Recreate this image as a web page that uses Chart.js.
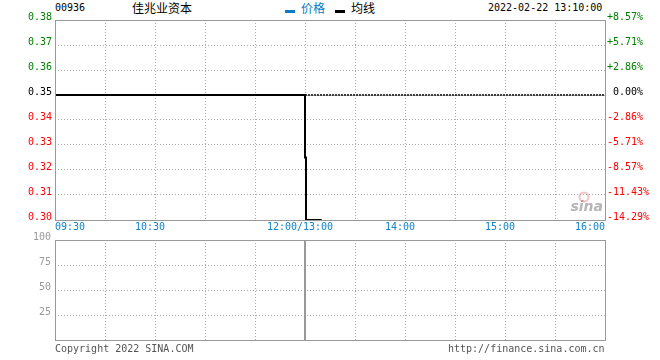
<!DOCTYPE html>
<html>
<head>
<meta charset="utf-8">
<script src="https://cdn.jsdelivr.net/npm/chart.js@4"></script>
<style>
body { margin: 0; background: #fff; width: 660px; height: 360px; position: relative; overflow: hidden; font-family: "DejaVu Sans Mono", monospace; }
.t { position: absolute; font-size: 10px; line-height: 12px; white-space: pre; color: #000; }
.cn { position: absolute; font-family: "Noto Sans CJK SC", sans-serif; font-size: 12px; line-height: 14px; white-space: pre; }
.mk { position: absolute; width: 10px; height: 3px; }
#topWrap { position: absolute; left: 0; top: 0; }
#botWrap { position: absolute; left: 0; top: 230px; }
</style>
</head>
<body>
<div class="t" style="left:55px;top:2px">00936</div>
<div class="cn" style="left:132px;top:1px">佳兆业资本</div>
<div class="mk" style="left:285px;top:10px;background:#0a7bc4"></div>
<div class="cn" style="left:301px;top:1px;color:#0a7bc4">价格</div>
<div class="mk" style="left:335px;top:10px;background:#000"></div>
<div class="cn" style="left:351px;top:1px">均线</div>
<div class="t" style="left:488px;top:2px">2022-02-22 13:10:00</div>
<div id="topWrap"><canvas id="priceChart" width="660" height="232"></canvas></div>
<div id="botWrap"><canvas id="volChart" width="660" height="130"></canvas></div>
<div class="t" style="left:55px;top:343px;color:#555">Copyright 2022 SINA.COM</div>
<div class="t" style="left:448px;top:343px;color:#555">http://finance.sina.com.cn</div>
<script>
// minutes since 09:30, lunch break removed (12:00 == 13:00 == 150)
const timeTicks = [0, 30, 60, 90, 120, 150, 180, 210, 240, 270, 300, 330];
const timeLabels = ['09:30', '', '10:30', '', '', '12:00/13:00', '', '14:00', '', '15:00', '', '16:00'];
const priceTicks = [0.30, 0.31, 0.32, 0.33, 0.34, 0.35, 0.36, 0.37, 0.38];
const volTicks = [0, 25, 50, 75, 100];
const preClose = 0.35;

const priceMin = [0, 150, 150.6, 160];
const priceVal = [0.35, 0.35, 0.30, 0.30];
const avgMin = [0, 150, 150, 150.6, 150.6, 160];
const avgVal = [0.35, 0.35, 0.325, 0.325, 0.30, 0.30];
const sessionBreak = 150;

const FONT = { family: 'DejaVu Sans Mono', size: 10 };
const GREEN = '#008000', RED = '#ff0000', GRID = '#aaaaaa', FRAME = '#999999';

function pts(xs, ys) { return xs.map((x, i) => ({ x: x, y: ys[i] })); }

function priceColor(v) {
    if (Math.abs(v - preClose) < 1e-9) return '#000';
    return v > preClose ? GREEN : RED;
}

const framePlugin = {
    id: 'frame',
    afterDatasetsDraw(chart) {
        const a = chart.chartArea, ctx = chart.ctx;
        ctx.save();
        ctx.strokeStyle = FRAME;
        ctx.lineWidth = 1;
        ctx.setLineDash([]);
        ctx.strokeRect(Math.round(a.left) + 0.5, Math.round(a.top) + 0.5,
            Math.round(a.right - a.left), Math.round(a.bottom - a.top));
        ctx.restore();
    }
};

// time labels under the price panel
const timeLabelPlugin = {
    id: 'timeLabels',
    afterDraw(chart) {
        const sx = chart.scales.x, ctx = chart.ctx;
        ctx.save();
        ctx.font = '10px "DejaVu Sans Mono"';
        ctx.fillStyle = '#0f82c8';
        ctx.textBaseline = 'middle';
        timeTicks.forEach((t, i) => {
            const lab = timeLabels[i];
            if (!lab) return;
            const x = sx.getPixelForValue(t);
            if (i === 0) { ctx.textAlign = 'left'; ctx.fillText(lab, x, 227); }
            else if (i === timeTicks.length - 1) { ctx.textAlign = 'right'; ctx.fillText(lab, x, 227); }
            else { ctx.textAlign = 'center'; ctx.fillText(lab, x - 5, 227); }
        });
        // sina watermark
        ctx.strokeStyle = 'rgba(235,120,120,0.45)';
        ctx.lineWidth = 2;
        ctx.beginPath();
        ctx.arc(584, 197, 4.5, 0, Math.PI * 2);
        ctx.stroke();
        ctx.font = 'italic bold 14px "DejaVu Sans"';
        ctx.fillStyle = 'rgba(150,150,150,0.7)';
        ctx.textAlign = 'right';
        ctx.textBaseline = 'alphabetic';
        ctx.fillText('sina', 603, 211);
        ctx.restore();
    }
};

const xScale = (h) => ({
    type: 'linear',
    min: 0,
    max: 330,
    afterBuildTicks: (s) => { s.ticks = timeTicks.map(v => ({ value: v })); },
    afterFit: (s) => { s.height = h; },
    ticks: { display: false },
    grid: { color: GRID, lineWidth: 1, drawTicks: false },
    border: { display: false, dash: [1, 2] }
});

new Chart(document.getElementById('priceChart'), {
    type: 'line',
    data: {
        datasets: [
            {
                label: '均线',
                data: pts(avgMin, avgVal),
                borderColor: '#000',
                borderWidth: 2,
                pointRadius: 0,
                tension: 0
            },
            {
                label: '价格',
                data: pts(priceMin, priceVal),
                borderColor: '#0a7bc4',
                borderWidth: 1,
                pointRadius: 0,
                tension: 0
            },
            {
                label: '昨收',
                data: pts([sessionBreak, 330], [preClose, preClose]),
                borderColor: '#000',
                borderWidth: 1.5,
                borderDash: [2, 1],
                pointRadius: 0,
                tension: 0
            }
        ]
    },
    options: {
        responsive: false,
        animation: false,
        layout: { padding: { top: 20, left: 0, right: 0, bottom: 0 } },
        plugins: { legend: { display: false }, tooltip: { enabled: false } },
        scales: {
            x: xScale(12),
            y: {
                position: 'left',
                min: 0.30,
                max: 0.38,
                afterBuildTicks: (s) => { s.ticks = priceTicks.map(v => ({ value: v })); },
                afterFit: (s) => { s.width = 55; },
                ticks: {
                    font: FONT,
                    padding: 3,
                    labelOffset: -3,
                    color: (c) => priceColor(c.tick.value),
                    callback: (v) => v.toFixed(2)
                },
                grid: { color: GRID, lineWidth: 1, drawTicks: false },
                border: { display: false, dash: [1, 2] }
            },
            y2: {
                position: 'right',
                min: 0.30,
                max: 0.38,
                afterBuildTicks: (s) => { s.ticks = priceTicks.map(v => ({ value: v })); },
                afterFit: (s) => { s.width = 55; },
                ticks: {
                    font: FONT,
                    padding: 2,
                    labelOffset: -3,
                    color: (c) => priceColor(c.tick.value),
                    callback: (v) => {
                        const p = (v - preClose) / preClose * 100;
                        if (Math.abs(p) < 0.005) return ' 0.00%';
                        return (p > 0 ? '+' : '') + p.toFixed(2) + '%';
                    }
                },
                grid: { display: false, drawTicks: false },
                border: { display: false }
            }
        }
    },
    plugins: [framePlugin, timeLabelPlugin]
});

new Chart(document.getElementById('volChart'), {
    type: 'line',
    data: {
        datasets: [
            {
                label: 'break',
                data: pts([sessionBreak, sessionBreak], [0, 100]),
                borderColor: '#999',
                borderWidth: 2,
                pointRadius: 0
            }
        ]
    },
    options: {
        responsive: false,
        animation: false,
        layout: { padding: { top: 10, left: 0, right: 55, bottom: 0 } },
        plugins: { legend: { display: false }, tooltip: { enabled: false } },
        scales: {
            x: xScale(20),
            y: {
                position: 'left',
                min: 0,
                max: 100,
                afterBuildTicks: (s) => { s.ticks = volTicks.map(v => ({ value: v })); },
                afterFit: (s) => { s.width = 55; },
                ticks: {
                    font: FONT,
                    padding: 4,
                    labelOffset: -3,
                    color: '#999',
                    callback: (v) => (v === 0 ? '' : String(v))
                },
                grid: { color: GRID, lineWidth: 1, drawTicks: false },
                border: { display: false, dash: [1, 2] }
            }
        }
    },
    plugins: [framePlugin]
});
</script>
</body>
</html>
